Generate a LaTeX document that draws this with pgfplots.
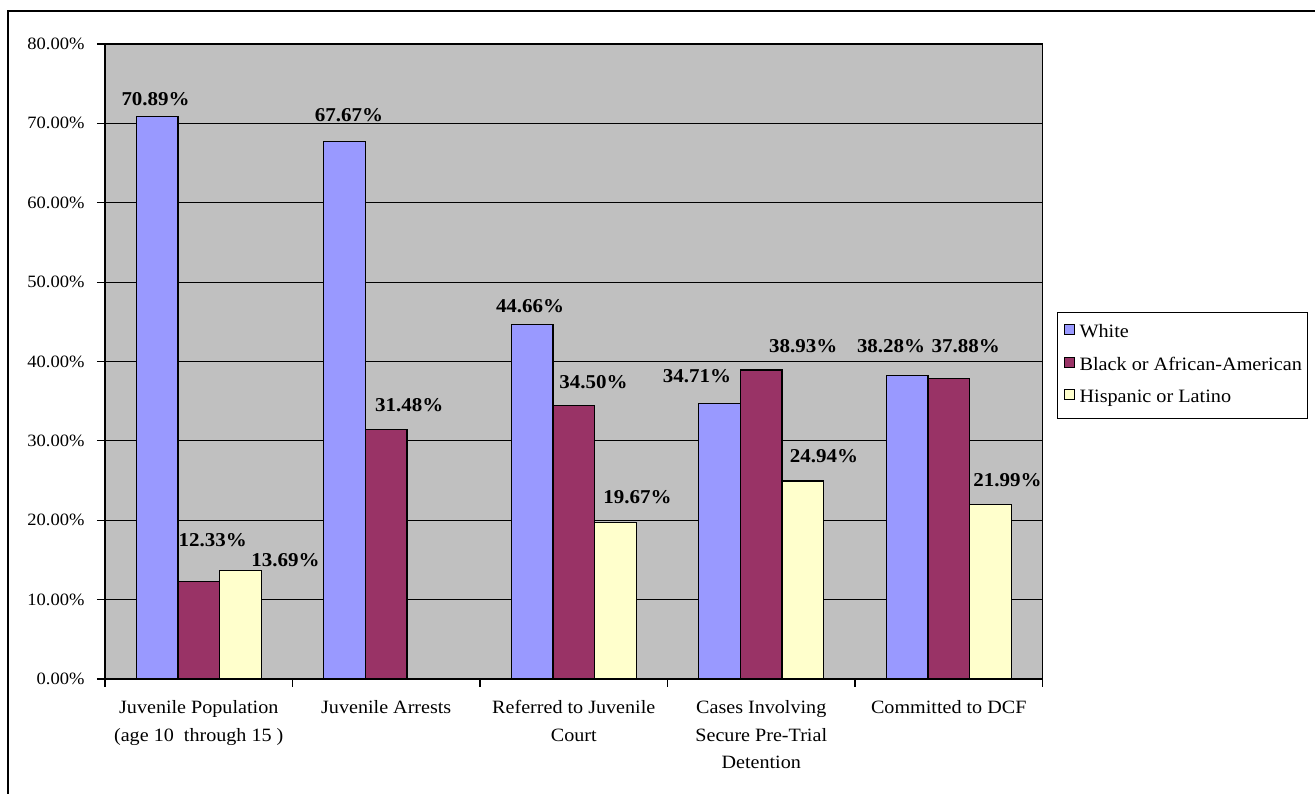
\documentclass[border=0pt]{standalone}
\usepackage{pgfplots}
\pgfplotsset{compat=1.18}
\usepackage{pgfplotstable}
\usepackage{fontspec}
\setmainfont{Liberation Serif}[FakeStretch=1.07]
\definecolor{cwhite}{RGB}{153,153,255}
\definecolor{cblack}{RGB}{153,51,102}
\definecolor{chisp}{RGB}{255,255,204}
\definecolor{plotbg}{RGB}{192,192,192}

\pgfplotstableread{
x y dx dy
0 70.89 -1.5 17
1 67.67 4.4 27
2 44.66 -2 18.5
3 34.71 -22.6 27
4 38.28 -16 29
}\tWhite
\pgfplotstableread{
x y dx dy
0 12.33 14 41
1 31.48 23 24
2 34.50 19.7 23
3 38.93 42 24
4 37.88 17 32
}\tBlack
\pgfplotstableread{
x y dx dy
0 13.69 45 10
2 19.67 22 26
3 24.94 21 25
4 21.99 17 24
}\tHisp

\pgfplotsset{
  sqlegend/.style={legend image code/.code={\draw[##1,draw=black,line width=1pt] (0pt,-1pt) rectangle (10pt,9pt);}},
  lbl/.style={
    visualization depends on={\thisrow{dx}\as\lbldx},
    visualization depends on={\thisrow{dy}\as\lbldy},
    nodes near coords={\pgfmathprintnumber[fixed,fixed zerofill,precision=2,assume math mode=true]{\pgfplotspointmeta}\%},
    nodes near coords style={anchor=center, xshift=\lbldx pt, yshift=\lbldy pt,
      font=\fontsize{19.6}{22}\selectfont\bfseries, text=black, inner sep=0pt},
  },
}

\begin{document}
\begin{tikzpicture}[x=1pt,y=1pt]
\clip (0,0) rectangle (1315,794);
\draw[line width=1.5pt] (8,-20) rectangle (1340,783);
\begin{axis}[
  at={(105pt,115pt)}, anchor=south west, scale only axis,
  width=937.5pt, height=635pt,
  ybar=0pt, bar width=41.67pt,
  xmin=-0.5, xmax=4.5, ymin=0, ymax=80,
  clip=false,
  axis background/.style={fill=plotbg},
  axis line style={black, line width=1.2pt},
  ymajorgrids, grid style={black, line width=1pt},
  tick align=outside, tick pos=left,
  major tick length=8pt, minor tick length=8pt,
  tick style={black, line width=1.2pt},
  ytick={0,10,...,80},
  yticklabel={\pgfmathprintnumber[fixed,fixed zerofill,precision=2,assume math mode=true]{\tick}\%},
  yticklabel style={font=\fontsize{17.3}{19}\selectfont, xshift=-9pt},
  xtick={0,1,2,3,4},
  major x tick style={draw=none},
  minor xtick={-0.5,0.5,1.5,2.5,3.5,4.5},
  xticklabels={{Juvenile Population\\(age 10\ \ through 15 )},{Juvenile Arrests},{Referred to Juvenile\\Court},{Cases Involving\\Secure Pre-Trial\\Detention},{Committed to DCF}},
  xticklabel style={align=center, font=\fontsize{18.8}{27.5}\selectfont, anchor=north, yshift=-10pt},
  legend cell align=left,
  legend style={at={(1.0155,0.578)}, anchor=north west, draw=black, line width=1pt, fill=white,
    font=\fontsize{18.9}{21}\selectfont, row sep=15pt, inner xsep=6pt, inner ysep=12pt,
    nodes={inner sep=0pt, text height=12pt, text depth=4pt},
    /tikz/every odd column/.append style={column sep=5pt}},
]
\addplot[fill=cwhite, draw=black, line width=1.2pt, sqlegend, lbl] table[x=x,y=y,meta=y] {\tWhite};
\addplot[fill=cblack, draw=black, line width=1.2pt, sqlegend, lbl] table[x=x,y=y,meta=y] {\tBlack};
\addplot[fill=chisp, draw=black, line width=1.2pt, sqlegend, lbl] table[x=x,y=y,meta=y] {\tHisp};
\legend{White, Black or African-American, Hispanic or Latino}
\end{axis}
\end{tikzpicture}
\end{document}
